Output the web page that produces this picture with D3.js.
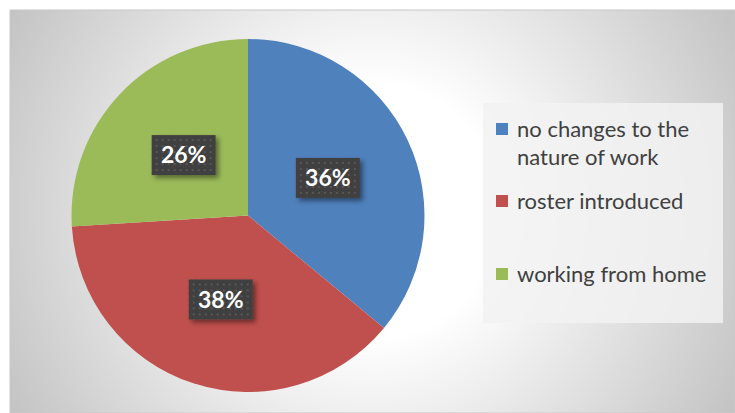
<!DOCTYPE html>
<html>
<head>
<meta charset="utf-8">
<style>
  body { margin: 0; background: #fff; }
  svg { display: block; }
  .legend text { font-family: Lato, "Open Sans", sans-serif; font-size: 22px; fill: #404040; }
  .lbl text { font-family: Lato, "Open Sans", sans-serif; font-size: 23px; font-weight: bold; fill: #fff; }
</style>
</head>
<body>
<svg width="735" height="413"></svg>
<script src="https://d3js.org/d3.v7.min.js"></script>
<script>

var categories = ["no changes to the nature of work", "roster introduced", "working from home"];
var legendLines = [["no changes to the", "nature of work"], ["roster introduced"], ["working from home"]];
var values = [36, 38, 26];
var colors = ["#4f81bd", "#c0504d", "#9bbb59"];

var svg = d3.select("svg");
var defs = svg.append("defs");

// background gradient of the chart area
var grad = defs.append("radialGradient")
    .attr("id", "bg")
    .attr("gradientUnits", "userSpaceOnUse")
    .attr("cx", 372).attr("cy", 211).attr("r", 420);
grad.append("stop").attr("offset", 0.3).attr("stop-color", "#ffffff");
grad.append("stop").attr("offset", 1).attr("stop-color", "#c2c2c2");

// dotted fill for the data label boxes
var pat = defs.append("pattern")
    .attr("id", "dots")
    .attr("patternUnits", "userSpaceOnUse")
    .attr("width", 6).attr("height", 6);
pat.append("rect").attr("width", 6).attr("height", 6).attr("fill", "#404040");
pat.append("rect").attr("x", 2).attr("y", 2).attr("width", 2).attr("height", 2).attr("fill", "#575757");

var shadow = defs.append("filter").attr("id", "shadow")
    .attr("x", "-20%").attr("y", "-20%").attr("width", "150%").attr("height", "160%");
shadow.append("feDropShadow")
    .attr("dx", 3).attr("dy", 3).attr("stdDeviation", 2.5)
    .attr("flood-color", "#000").attr("flood-opacity", 0.45);

svg.append("rect")
    .attr("x", 10).attr("y", 10)
    .attr("width", 725).attr("height", 403)
    .attr("fill", "url(#bg)")
    .attr("stroke", "#c8c8c8").attr("stroke-width", 1);

var cx = 248, cy = 215.5, radius = 176.5;

var pie = d3.pie().sort(null).value(function(d) { return d; });
var arc = d3.arc().innerRadius(0).outerRadius(radius);
var labelArc = d3.arc().innerRadius(radius * 0.5).outerRadius(radius * 0.5);

var g = svg.append("g").attr("transform", "translate(" + cx + "," + cy + ")");

var arcs = pie(values);

g.selectAll("path.slice")
  .data(arcs)
  .enter().append("path")
    .attr("class", "slice")
    .attr("d", arc)
    .attr("fill", function(d, i) { return colors[i]; });

// data labels
var lbl = g.selectAll("g.lbl")
  .data(arcs)
  .enter().append("g")
    .attr("class", "lbl")
    .attr("transform", function(d) {
      var c = labelArc.centroid(d);
      return "translate(" + c[0] + "," + c[1] + ")";
    });

lbl.append("rect")
    .attr("x", -32).attr("y", -20)
    .attr("width", 64).attr("height", 40)
    .attr("fill", "url(#dots)")
    .attr("filter", "url(#shadow)");

lbl.append("text")
    .attr("text-anchor", "middle")
    .attr("dy", "0.36em")
    .text(function(d) { return d.data + "%"; });

// legend
var legend = svg.append("g").attr("class", "legend");

legend.append("rect")
    .attr("x", 483).attr("y", 103)
    .attr("width", 240).attr("height", 220)
    .attr("fill", "#f2f2f2")
    .attr("fill-opacity", 0.85);

var rowY = [129, 201, 274];

var item = legend.selectAll("g.item")
  .data(categories)
  .enter().append("g")
    .attr("class", "item")
    .attr("transform", function(d, i) { return "translate(496," + rowY[i] + ")"; });

item.append("rect")
    .attr("x", 0).attr("y", -6)
    .attr("width", 12).attr("height", 12)
    .attr("fill", function(d, i) { return colors[i]; });

item.append("text")
    .attr("x", 21)
    .selectAll("tspan")
    .data(function(d, i) { return legendLines[i]; })
    .enter().append("tspan")
      .attr("x", 21)
      .attr("dy", function(d, j) { return j === 0 ? "0.35em" : "1.28em"; })
      .text(function(d) { return d; });

</script>
</body>
</html>
